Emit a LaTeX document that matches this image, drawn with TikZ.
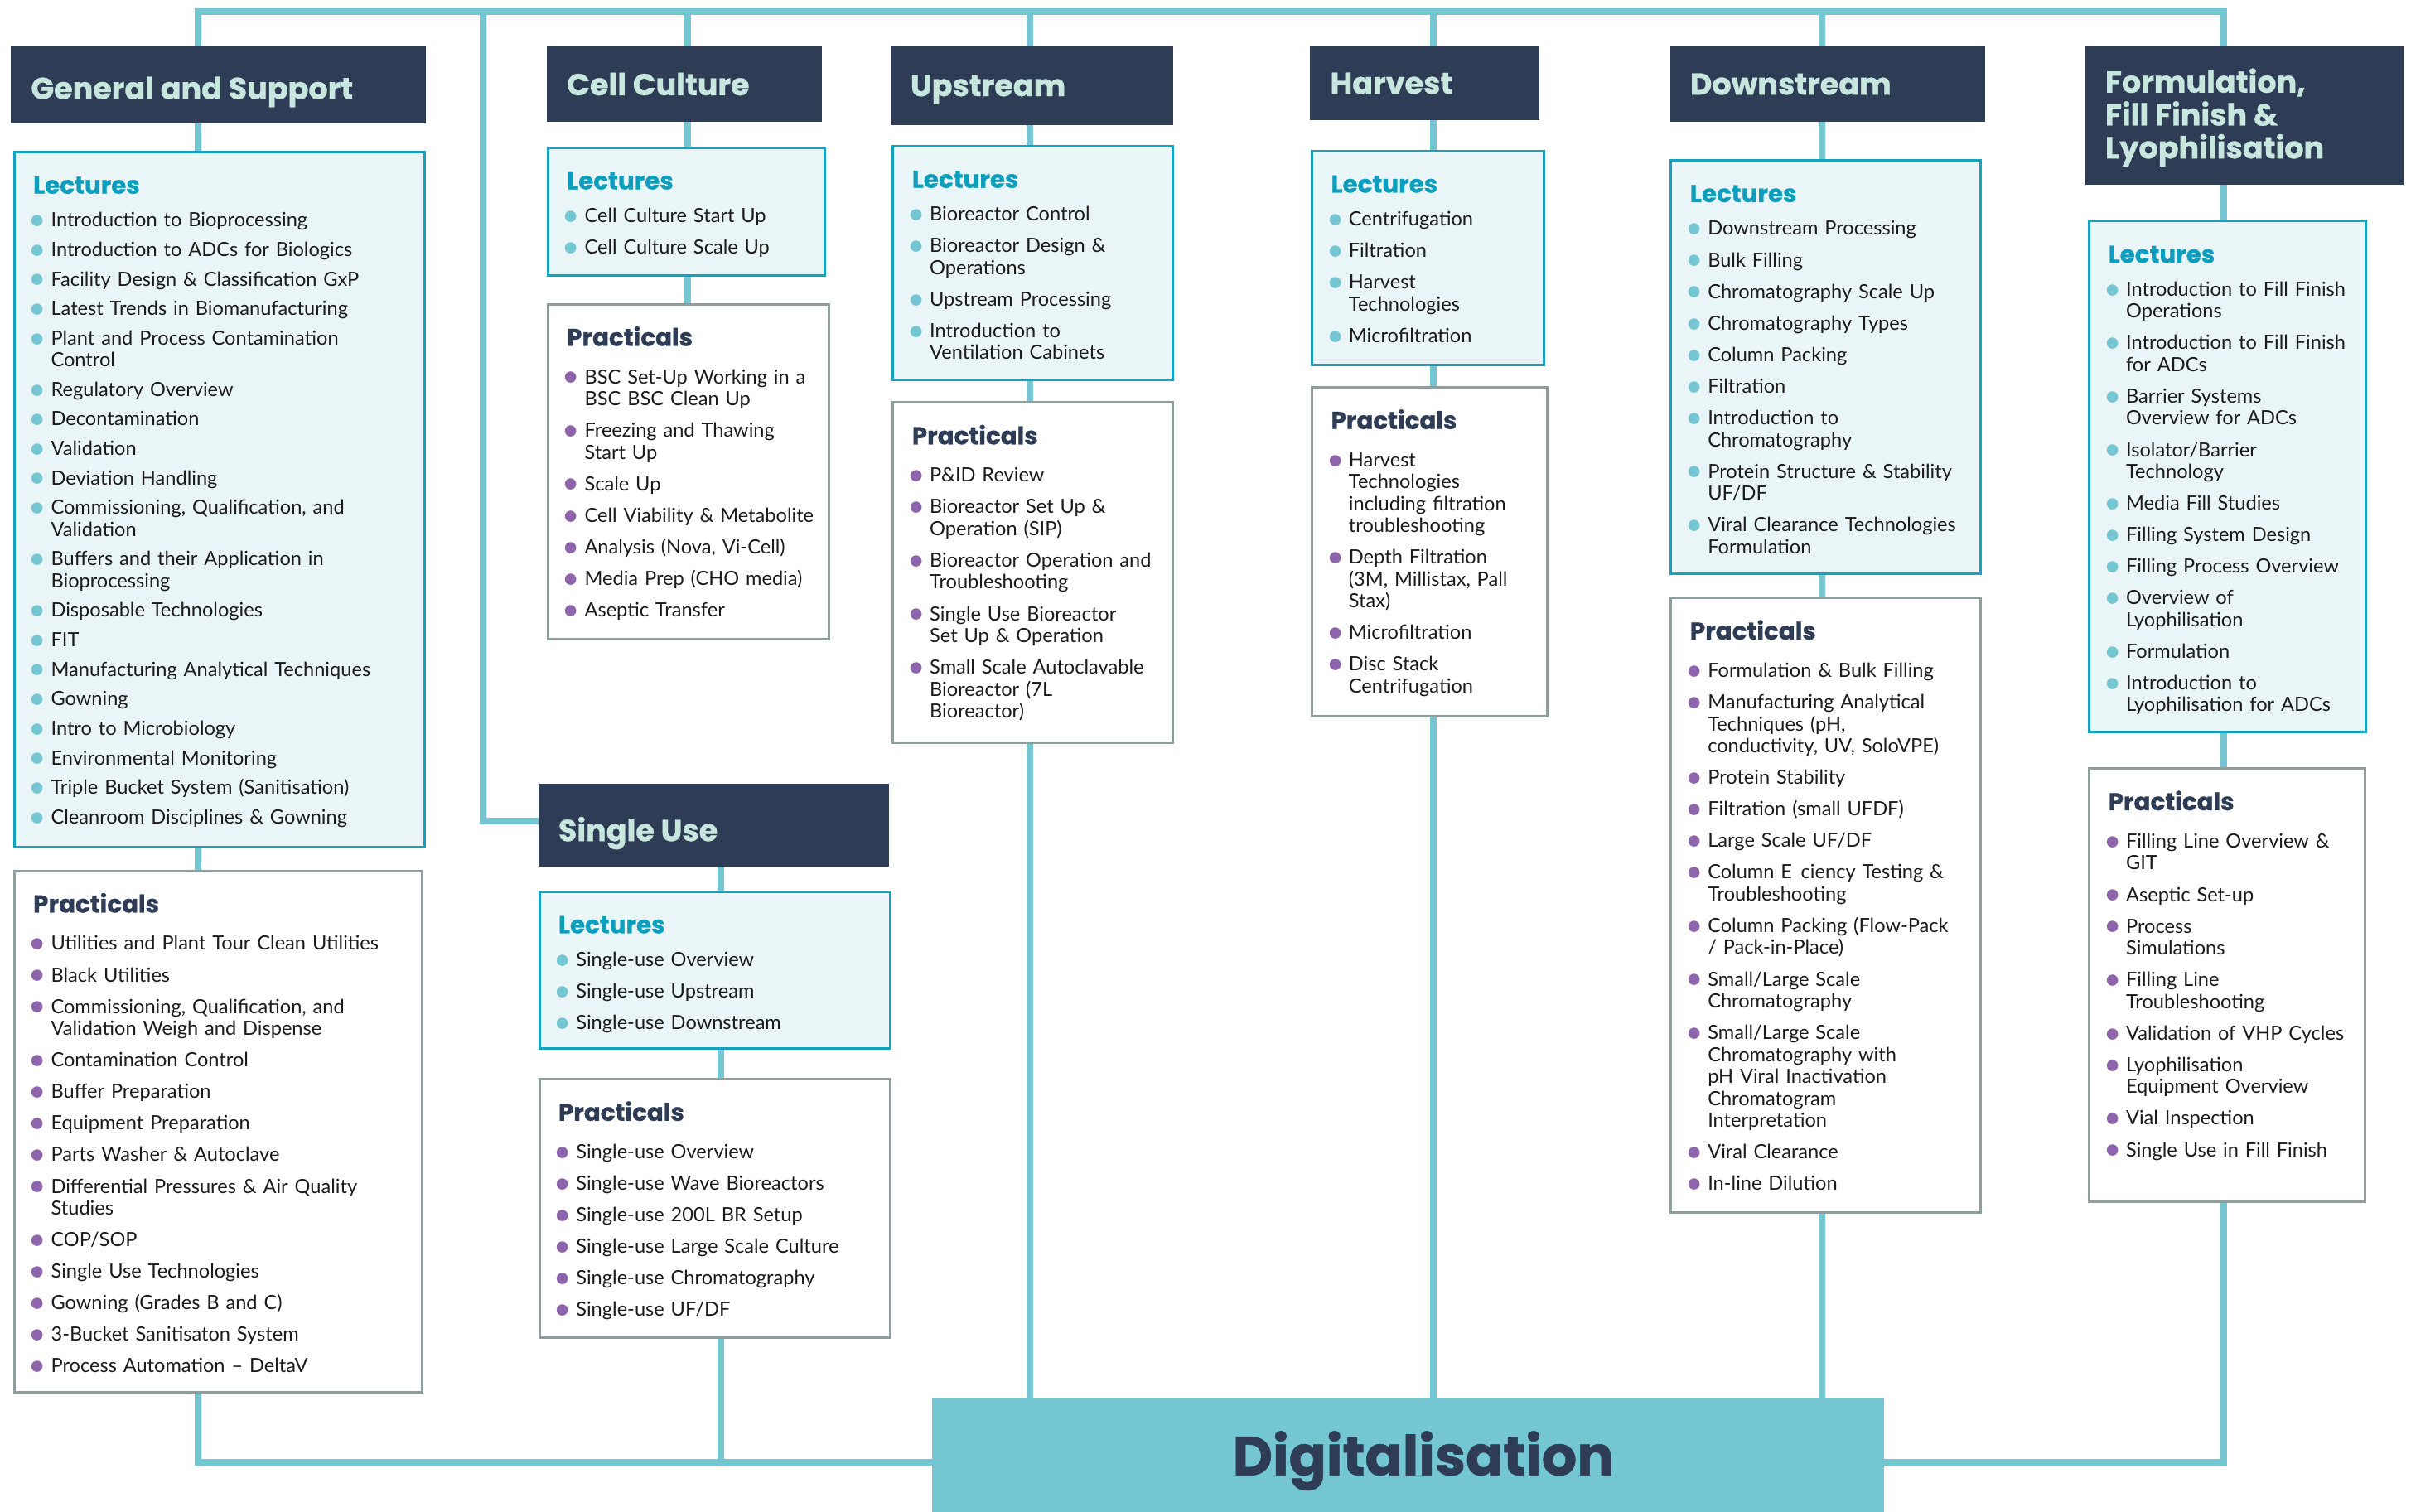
\documentclass[tikz,border=0pt]{standalone}
\usepackage{fontspec}
\setmainfont{Lato}
\newfontfamily\popfont{Poppins}[BoldFeatures={FakeBold=0.8}]
\usetikzlibrary{calc, positioning, backgrounds}
\definecolor{linkteal}{HTML}{74C6D2}
\definecolor{hdnavy}{HTML}{2E3C56}
\definecolor{hdmint}{HTML}{C6E6DE}
\definecolor{lecfill}{HTML}{EAF5F8}
\definecolor{lecedge}{HTML}{14A2BF}
\definecolor{lecteal}{HTML}{0C9EBC}
\definecolor{lecdot}{HTML}{74C6D2}
\definecolor{pracedge}{HTML}{8D9E9C}
\definecolor{pracdot}{HTML}{8E64AC}
\definecolor{itemink}{HTML}{1C1C1C}

\def\un{0.05cm}
\newlength{\itemgap}\setlength{\itemgap}{8.9pt}
\newlength{\bulind}\setlength{\bulind}{16.4pt}
\newcommand{\hdfont}{\popfont\bfseries\fontsize{28pt}{30.4pt}\selectfont}
\newcommand{\ttlfont}{\popfont\bfseries\fontsize{22.5pt}{24pt}\selectfont}
\newcommand{\itemfont}{\fontsize{18.1pt}{20.3pt}\selectfont}
\newcommand{\digifont}{\popfont\bfseries\fontsize{51pt}{56pt}\selectfont}
\newcommand{\lecttl}{\noindent{\ttlfont\color{lecteal}\rule{0pt}{18pt}Lectures}\par\vspace{\dimexpr10.4pt-\itemgap\relax}}
\newcommand{\practtl}{\noindent{\ttlfont\color{hdnavy}\rule{0pt}{18pt}Practicals}\par\vspace{\dimexpr14.6pt-\itemgap\relax}}
\newcommand{\dotmark}[1]{\textcolor{#1}{\raisebox{-0.16em}{\scalebox{1.55}{\textbullet}}}}
\newcommand{\bulitem}[2]{\par\vspace{\itemgap}\noindent\hangindent=\bulind\hangafter=1\makebox[\bulind][l]{\hspace{-4.2pt}\dotmark{#1}}{\let\\\newline #2}\par}
\newcommand{\lecitem}[1]{\bulitem{lecdot}{#1}}
\newcommand{\pracitem}[1]{\bulitem{pracdot}{#1}}

\begin{document}
\begin{tikzpicture}[x=0.05cm, y=-0.05cm,
    link/.style={draw=linkteal, line width=6.1pt},
    head/.style 2 args={fill=hdnavy, anchor=north west, inner sep=0pt, minimum width=#1*\un, minimum height=#2*\un},
    headtxt/.style={anchor=west, inner sep=0pt, text=hdmint, font=\hdfont, align=left, text depth=0pt},
    lecbox/.style 2 args={draw=lecedge, fill=lecfill, line width=2.3pt, anchor=north west, inner sep=0pt, minimum width=#1*\un, minimum height=#2*\un},
    pracbox/.style 2 args={draw=pracedge, fill=white, line width=2.3pt, anchor=north west, inner sep=0pt, minimum width=#1*\un, minimum height=#2*\un},
    list/.style={anchor=north west, inner sep=0pt, align=left, font=\itemfont, text=itemink, text width=#1}]
\useasboundingbox (0,0) rectangle (1568,983);

% General and Support
\node[head={270}{50}] (gsHead) at (7,30) {};
\node[headtxt] (gsHeadTxt) at ([shift={(13,2)}]gsHead.west) {General and Support};
\node[lecbox={267}{452}] (gsLec) at (8.5,98) {};
\node[list=13.4cm] (gsLecTxt) at ([shift={(13,15.15)}]gsLec.north west) {\setlength{\itemgap}{7pt}\lecttl
  \lecitem{Introduction to Bioprocessing}
  \lecitem{Introduction to ADCs for Biologics}
  \lecitem{Facility Design \& Classification GxP}
  \lecitem{Latest Trends in Biomanufacturing}
  \lecitem{Plant and Process Contamination\\Control}
  \lecitem{Regulatory Overview}
  \lecitem{Decontamination}
  \lecitem{Validation}
  \lecitem{Deviation Handling}
  \lecitem{Commissioning, Qualification, and\\Validation}
  \lecitem{Buffers and their Application in\\Bioprocessing}
  \lecitem{Disposable Technologies}
  \lecitem{FIT}
  \lecitem{Manufacturing Analytical Techniques}
  \lecitem{Gowning}
  \lecitem{Intro to Microbiology}
  \lecitem{Environmental Monitoring}
  \lecitem{Triple Bucket System (Sanitisation)}
  \lecitem{Cleanroom Disciplines \& Gowning}};
\node[pracbox={265}{339}] (gsPrac) at (8.5,565.5) {};
\node[list=13.3cm] (gsPracTxt) at ([shift={(13,15.15)}]gsPrac.north west) {\practtl
  \pracitem{Utilities and Plant Tour Clean Utilities}
  \pracitem{Black Utilities}
  \pracitem{Commissioning, Qualification, and\\Validation Weigh and Dispense}
  \pracitem{Contamination Control}
  \pracitem{Buffer Preparation}
  \pracitem{Equipment Preparation}
  \pracitem{Parts Washer \& Autoclave}
  \pracitem{Differential Pressures \& Air Quality\\Studies}
  \pracitem{COP/SOP}
  \pracitem{Single Use Technologies}
  \pracitem{Gowning (Grades B and C)}
  \pracitem{3-Bucket Sanitisaton System}
  \pracitem{Process Automation -- DeltaV}};

% Cell Culture
\node[head={179}{49}] (ccHead) at (355.5,30) {};
\node[headtxt] (ccHeadTxt) at ([shift={(13,0)}]ccHead.west) {Cell Culture};
\node[lecbox={180}{83}] (ccLec) at (355.5,95.2) {};
\node[list=9cm] (ccLecTxt) at ([shift={(13,15.15)}]ccLec.north west) {\lecttl
  \lecitem{Cell Culture Start Up}
  \lecitem{Cell Culture Scale Up}};
\node[pracbox={183}{218}] (ccPrac) at (355.5,197) {};
\node[list=9.2cm] (ccPracTxt) at ([shift={(13,15.15)}]ccPrac.north west) {\practtl
  \pracitem{BSC Set-Up Working in a\\BSC BSC Clean Up}
  \pracitem{Freezing and Thawing\\Start Up}
  \pracitem{Scale Up}
  \pracitem{Cell Viability \& Metabolite}
  \pracitem{Analysis (Nova, Vi-Cell)}
  \pracitem{Media Prep (CHO media)}
  \pracitem{Aseptic Transfer}};

% Upstream
\node[head={184}{51}] (upHead) at (579,30) {};
\node[headtxt] (upHeadTxt) at ([shift={(13,0)}]upHead.west) {Upstream};
\node[lecbox={182}{152}] (upLec) at (580,94.2) {};
\node[list=9.1cm] (upLecTxt) at ([shift={(13,15.15)}]upLec.north west) {\lecttl
  \lecitem{Bioreactor Control}
  \lecitem{Bioreactor Design \&\\Operations}
  \lecitem{Upstream Processing}
  \lecitem{Introduction to\\Ventilation Cabinets}};
\node[pracbox={182}{221}] (upPrac) at (580,261) {};
\node[list=9.1cm] (upPracTxt) at ([shift={(13,15.15)}]upPrac.north west) {\practtl
  \pracitem{P\&ID Review}
  \pracitem{Bioreactor Set Up \&\\Operation (SIP)}
  \pracitem{Bioreactor Operation and\\Troubleshooting}
  \pracitem{Single Use Bioreactor\\Set Up \& Operation}
  \pracitem{Small Scale Autoclavable\\Bioreactor (7L\\Bioreactor)}};

% Harvest
\node[head={149}{48}] (hvHead) at (852,30) {};
\node[headtxt] (hvHeadTxt) at ([shift={(13,0)}]hvHead.west) {Harvest};
\node[lecbox={151}{139}] (hvLec) at (852.5,97.3) {};
\node[list=7.6cm] (hvLecTxt) at ([shift={(13,15.15)}]hvLec.north west) {\lecttl
  \lecitem{Centrifugation}
  \lecitem{Filtration}
  \lecitem{Harvest\\Technologies}
  \lecitem{Microfiltration}};
\node[pracbox={153}{214}] (hvPrac) at (852.5,251) {};
\node[list=7.7cm] (hvPracTxt) at ([shift={(13,15.15)}]hvPrac.north west) {\practtl
  \pracitem{Harvest\\Technologies\\including filtration\\troubleshooting}
  \pracitem{Depth Filtration\\(3M, Millistax, Pall\\Stax)}
  \pracitem{Microfiltration}
  \pracitem{Disc Stack\\Centrifugation}};

% Downstream
\node[head={205}{49}] (dsHead) at (1086,30) {};
\node[headtxt] (dsHeadTxt) at ([shift={(13,0)}]dsHead.west) {Downstream};
\node[lecbox={201}{269}] (dsLec) at (1086,103.5) {};
\node[list=10.1cm] (dsLecTxt) at ([shift={(13,15.15)}]dsLec.north west) {\lecttl
  \lecitem{Downstream Processing}
  \lecitem{Bulk Filling}
  \lecitem{Chromatography Scale Up}
  \lecitem{Chromatography Types}
  \lecitem{Column Packing}
  \lecitem{Filtration}
  \lecitem{Introduction to\\Chromatography}
  \lecitem{Protein Structure \& Stability\\UF/DF}
  \lecitem{Viral Clearance Technologies\\Formulation}};
\node[pracbox={201}{400}] (dsPrac) at (1086,388) {};
\node[list=10.1cm] (dsPracTxt) at ([shift={(13,15.15)}]dsPrac.north west) {\practtl
  \pracitem{Formulation \& Bulk Filling}
  \pracitem{Manufacturing Analytical\\Techniques (pH,\\conductivity, UV, SoloVPE)}
  \pracitem{Protein Stability}
  \pracitem{Filtration (small UFDF)}
  \pracitem{Large Scale UF/DF}
  \pracitem{Column E\hspace{0.45em}ciency Testing \&\\Troubleshooting}
  \pracitem{Column Packing (Flow-Pack\\/ Pack-in-Place)}
  \pracitem{Small/Large Scale\\Chromatography}
  \pracitem{Small/Large Scale\\Chromatography with\\pH Viral Inactivation\\Chromatogram\\Interpretation}
  \pracitem{Viral Clearance}
  \pracitem{In-line Dilution}};

% Formulation, Fill Finish & Lyophilisation
\node[head={207}{90}] (ffHead) at (1356,30) {};
\node[headtxt] (ffHeadTxt) at ([shift={(13,-1.4)}]ffHead.west) {Formulation,\\Fill Finish \&\\Lyophilisation};
\node[lecbox={180}{332}] (ffLec) at (1358,143) {};
\node[list=9cm] (ffLecTxt) at ([shift={(13,15.15)}]ffLec.north west) {\lecttl
  \lecitem{Introduction to Fill Finish\\Operations}
  \lecitem{Introduction to Fill Finish\\for ADCs}
  \lecitem{Barrier Systems\\Overview for ADCs}
  \lecitem{Isolator/Barrier\\Technology}
  \lecitem{Media Fill Studies}
  \lecitem{Filling System Design}
  \lecitem{Filling Process Overview}
  \lecitem{Overview of\\Lyophilisation}
  \lecitem{Formulation}
  \lecitem{Introduction to\\Lyophilisation for ADCs}};
\node[pracbox={179}{282}] (ffPrac) at (1358,499) {};
\node[list=9cm] (ffPracTxt) at ([shift={(13,15.15)}]ffPrac.north west) {\practtl
  \pracitem{Filling Line Overview \&\\GIT}
  \pracitem{Aseptic Set-up}
  \pracitem{Process\\Simulations}
  \pracitem{Filling Line\\Troubleshooting}
  \pracitem{Validation of VHP Cycles}
  \pracitem{Lyophilisation\\Equipment Overview}
  \pracitem{Vial Inspection}
  \pracitem{Single Use in Fill Finish}};

% Single Use
\node[head={228}{54}] (suHead) at (350,509.5) {};
\node[headtxt] (suHeadTxt) at ([shift={(13,2.5)}]suHead.west) {Single Use};
\node[lecbox={228}{102}] (suLec) at (350,579) {};
\node[list=11.4cm] (suLecTxt) at ([shift={(13,15.15)}]suLec.north west) {\lecttl
  \lecitem{Single-use Overview}
  \lecitem{Single-use Upstream}
  \lecitem{Single-use Downstream}};
\node[pracbox={228}{168}] (suPrac) at (350,701) {};
\node[list=11.4cm] (suPracTxt) at ([shift={(13,15.15)}]suPrac.north west) {\practtl
  \pracitem{Single-use Overview}
  \pracitem{Single-use Wave Bioreactors}
  \pracitem{Single-use 200L BR Setup}
  \pracitem{Single-use Large Scale Culture}
  \pracitem{Single-use Chromatography}
  \pracitem{Single-use UF/DF}};

% Digitalisation
\node[fill=linkteal, anchor=north west, inner sep=0pt, minimum width=619*\un, minimum height=75*\un] (digi) at (606,909.5) {};
\node[font=\digifont, text=hdnavy, text depth=0pt, inner sep=0pt] (digiTxt) at ([shift={(10,-2)}]digi.center) {Digitalisation};

% frame and branches behind the boxes
\begin{scope}[on background layer]
  \coordinate (frameTL) at (129,7.6);
  \coordinate (frameTR) at (1446,7.6);
  \coordinate (frameBL) at (129,951);
  \coordinate (frameBR) at (1446,951);
  \coordinate (ccTop) at (447,7.6);
  \coordinate (upTop) at (669.8,7.6);
  \coordinate (hvTop) at (932,7.6);
  \coordinate (dsTop) at (1185,7.6);
  \coordinate (suTop) at (314,7.6);
  \coordinate (suJoin) at (314,534);
  \coordinate (suBot) at (469,951);
  \draw[link] (digi.west |- frameBL) -- (frameBL) -- (frameTL) -- (frameTR) -- (frameBR) -- (digi.east |- frameBR);
  \draw[link] (ccTop) -- (ccTop |- ccPrac.north);
  \draw[link] (upTop) -- (upTop |- digi.north);
  \draw[link] (hvTop) -- (hvTop |- digi.north);
  \draw[link] (dsTop) -- (dsTop |- digi.north);
  \draw[link] (suTop) -- (suJoin) -- (suJoin -| suHead.west);
  \draw[link] (suBot |- suHead.south) -- (suBot);
\end{scope}
\end{tikzpicture}
\end{document}
